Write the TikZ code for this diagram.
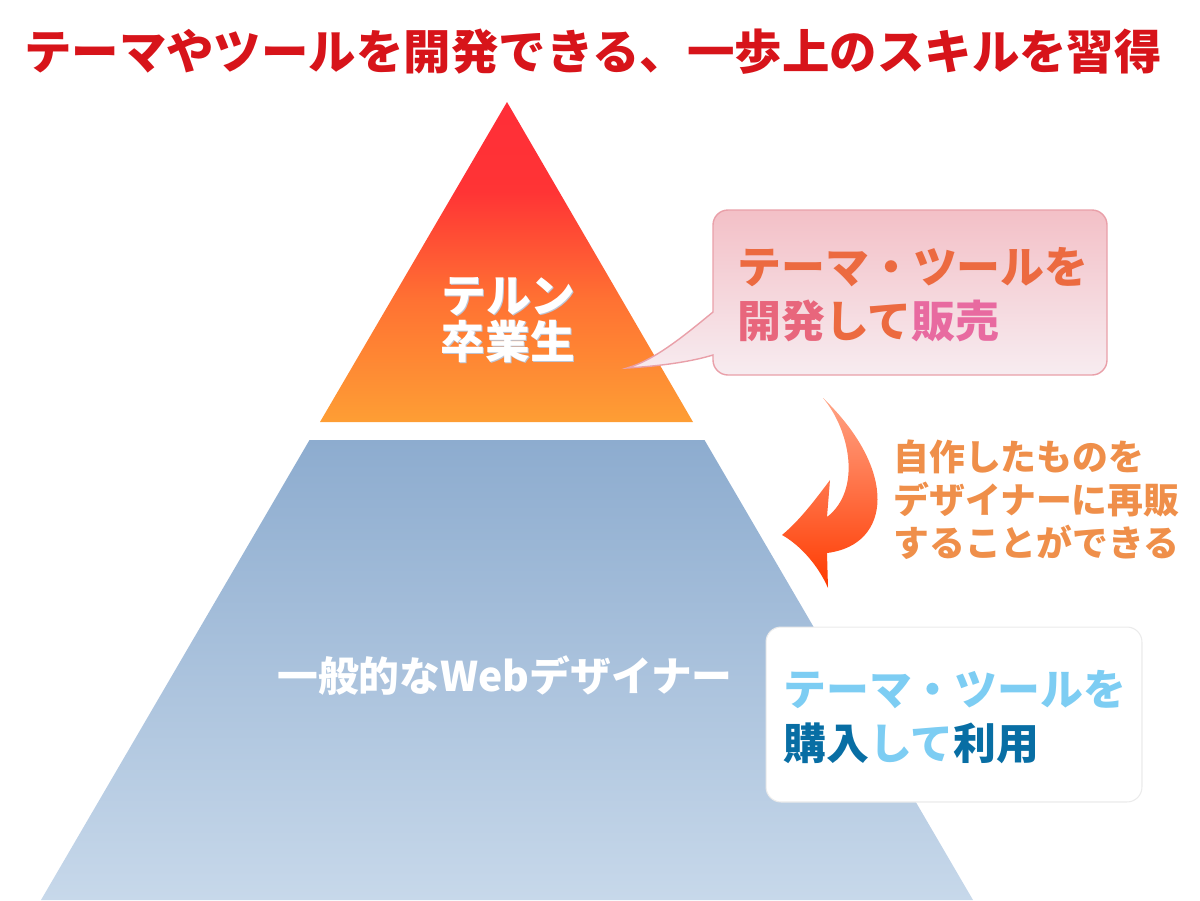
\documentclass[tikz,border=0pt]{standalone}
\usepackage{fontspec}
\setmainfont{Noto Sans CJK JP}
\newcommand\myfs[2]{\fontsize{#1}{#2}\selectfont}
\definecolor{titlered}{HTML}{D7141A}
\definecolor{tritop}{HTML}{FF2E38}
\definecolor{trired}{HTML}{FF3435}
\definecolor{trimid}{HTML}{FF7233}
\definecolor{tribot}{HTML}{FE9E34}
\definecolor{bluetop}{HTML}{8DACCF}
\definecolor{bluebot}{HTML}{C7D8EA}
\definecolor{bubtop}{HTML}{F3C0C7}
\definecolor{bubbot}{HTML}{F7ECF0}
\definecolor{bubline}{HTML}{E9A0A9}
\definecolor{bubor}{HTML}{EC6A40}
\definecolor{bubrose}{HTML}{E8667C}
\definecolor{bubpink}{HTML}{E86AA0}
\definecolor{arrtop}{HTML}{FFA486}
\definecolor{arrbot}{HTML}{FF3A00}
\definecolor{arrtext}{HTML}{EF8F4A}
\definecolor{lblue}{HTML}{7DCDF3}
\definecolor{dblue}{HTML}{086EA4}
\definecolor{txtshadow}{HTML}{BCC6D6}
\pgfdeclareverticalshading{trishade}{100bp}{color(0bp)=(tribot); color(25bp)=(tribot);
  color(44bp)=(trimid); color(61bp)=(trired); color(75bp)=(tritop); color(100bp)=(tritop)}
\begin{document}
\begin{tikzpicture}[x=0.02cm,y=-0.02cm,
  txt/.style={inner sep=0pt},
  whitebox/.style={draw=black!8, line width=0.6pt, fill=white, rounded corners=0.3cm,
    minimum width=7.52cm, minimum height=3.5cm, inner sep=0pt}]
\useasboundingbox (0,0) rectangle (1200,900);
% title
\node[txt, text=titlered, font=\bfseries\myfs{27}{30}] (title) at (593,52)
  {テーマやツールを開発できる、一歩上のスキルを習得};
% pyramid
\path[shading=trishade]
  (507,102) -- (693,422) -- (320,422) -- cycle;
\path[shade, top color=bluetop, bottom color=bluebot]
  (309.5,440) -- (704.5,440) -- (973,900) -- (41,900) -- cycle;
% speech bubble
\path[shade, top color=bubtop, bottom color=bubbot, draw=bubline, line width=0.8pt]
  (713,312) -- (713,225) arc[start angle=180,end angle=270,radius=15]
  -- (1092,210) arc[start angle=270,end angle=360,radius=15]
  -- (1107,360) arc[start angle=0,end angle=90,radius=15]
  -- (728,375) arc[start angle=90,end angle=180,radius=15]
  -- (713,355) .. controls (690,362) and (660,366) .. (627,368)
  .. controls (655,360) and (685,335) .. (713,312) -- cycle;
% curved arrow
\path[shade, top color=arrtop, bottom color=arrbot]
  (823,398) .. controls (850,430) and (862,490) .. (827,517)
  -- (830,480) .. controls (815,500) and (800,520) .. (782,535)
  .. controls (800,545) and (818,565) .. (828,588)
  -- (827,553) .. controls (892,545) and (898,470) .. (823,398) -- cycle;
% white box
\node[whitebox] (buybox) at (954,714.5) {};
% texts
\node[txt, text=txtshadow, align=center, font=\bfseries\myfs{25.5}{26}] (gradshadow) at (509,321)
  {テルン\\卒業生};
\node[txt, text=white, align=center, font=\bfseries\myfs{25.5}{26}] (grad) at (508,320)
  {テルン\\卒業生};
\node[txt, text=white, font=\bfseries\myfs{23.2}{26}] (web) at (505,676)
  {一般的なWebデザイナー};
\node[txt, anchor=west, align=left, text=bubor, font=\bfseries\myfs{25}{30.6}] (dev) at (737,295)
  {テーマ・ツールを\\\textcolor{bubrose}{開発}して\textcolor{bubpink}{販売}};
\node[txt, anchor=west, align=left, text=arrtext, font=\bfseries\myfs{20.4}{24.4}] (resell) at (893,500)
  {自作したものを\\デザイナーに再販\\することができる};
\node[txt, anchor=west, align=left, text=lblue, font=\bfseries\myfs{24.4}{31.2}] (buy) at (783,717)
  {テーマ・ツールを\\\textcolor{dblue}{購入}して\textcolor{dblue}{利用}};
\end{tikzpicture}
\end{document}
